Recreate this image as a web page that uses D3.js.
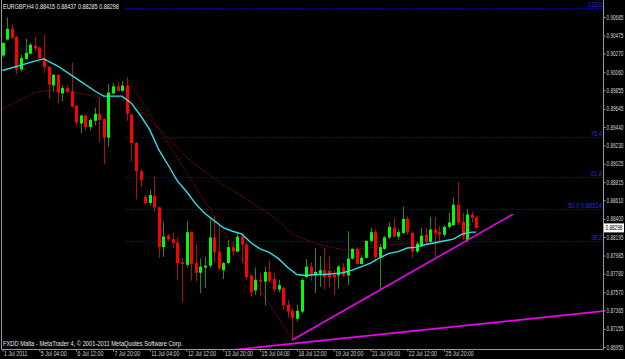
<!DOCTYPE html>
<html>
<head>
<meta charset="utf-8">
<script src="https://cdn.jsdelivr.net/npm/d3@7"></script>
<style>
html, body { margin: 0; padding: 0; background: #000; }
svg { display: block; }
text { font-family: "Liberation Sans", Arial, sans-serif; }
</style>
</head>
<body>
<svg id="chart" width="625" height="359"></svg>
<script>
// EURGBP H4 candles, one entry per bar (1 Jul 20:00 .. 26 Jul)
const opens = [0.9025,0.9043,0.9055,0.9046,0.9009,0.9021,0.9027,0.9036,0.9034,0.9022,
  0.9012,0.8991,0.9003,0.8982,0.8988,0.8984,0.8968,0.8948,0.8957,0.8944,
  0.8951,0.8959,0.8953,0.8932,0.8982,0.8990,0.8985,0.8991,0.8958,0.8926,
  0.8894,0.8865,0.8858,0.8866,0.8853,0.8808,0.8821,0.8817,0.8813,0.8791,
  0.8788,0.8825,0.8790,0.8779,0.8785,0.8787,0.8819,0.8803,0.8782,0.8790,
  0.8808,0.8803,0.8820,0.8811,0.8776,0.8759,0.8771,0.8769,0.8780,0.8772,
  0.8760,0.8762,0.8743,0.8736,0.8727,0.8735,0.8774,0.8786,0.8776,0.8778,
  0.8782,0.8781,0.8777,0.8776,0.8785,0.8776,0.8795,0.8806,0.8789,0.8796,
  0.8815,0.8825,0.8797,0.8806,0.8819,0.8830,0.8820,0.8824,0.8840,0.8824,
  0.8803,0.8810,0.8822,0.8814,0.8828,0.8825,0.8822,0.8831,0.8833,0.8856,
  0.8837,0.8816,0.8845,0.88415];
const highs = [0.9040,0.9068,0.9060,0.9047,0.9026,0.9044,0.9039,0.9046,0.9035,0.9048,
  0.9013,0.9004,0.9004,0.8991,0.8991,0.9017,0.8969,0.8958,0.8958,0.8954,
  0.8966,0.8978,0.8954,0.8993,0.8994,0.8995,0.8996,0.9000,0.8959,0.8927,
  0.8896,0.8867,0.8873,0.8888,0.8854,0.8837,0.8823,0.8824,0.8819,0.8796,
  0.8837,0.8826,0.8811,0.8795,0.8797,0.8840,0.8843,0.8833,0.8791,0.8816,
  0.8814,0.8824,0.8821,0.8814,0.8777,0.8785,0.8779,0.8786,0.8793,0.8779,
  0.8771,0.8763,0.8748,0.8739,0.8743,0.8773,0.8795,0.8791,0.8807,0.8798,
  0.8807,0.8798,0.8782,0.8788,0.8790,0.8826,0.8807,0.8808,0.8799,0.8816,
  0.8830,0.8828,0.8812,0.8821,0.8836,0.8841,0.8828,0.8854,0.8843,0.8826,
  0.8814,0.8830,0.8830,0.8842,0.8842,0.8832,0.8833,0.8847,0.8864,0.8882,
  0.8847,0.8851,0.8848,0.88437];
const lows = [0.9023,0.9042,0.9044,0.9004,0.9007,0.9020,0.9026,0.9029,0.9021,0.9005,
  0.8976,0.8984,0.8971,0.8973,0.8982,0.8966,0.8946,0.8937,0.8940,0.8940,
  0.8946,0.8927,0.8902,0.8922,0.8981,0.8984,0.8984,0.8951,0.8905,0.8862,
  0.8876,0.8856,0.8855,0.8848,0.8796,0.8797,0.8815,0.8807,0.8771,0.8746,
  0.8785,0.8770,0.8769,0.8756,0.8762,0.8785,0.8791,0.8782,0.8772,0.8789,
  0.8798,0.8802,0.8790,0.8771,0.8752,0.8754,0.8753,0.8742,0.8768,0.8757,
  0.8757,0.8737,0.8728,0.8703,0.8724,0.8733,0.8773,0.8770,0.8756,0.8763,
  0.8760,0.8763,0.8754,0.8761,0.8774,0.8765,0.8794,0.8788,0.8788,0.8795,
  0.8814,0.8791,0.8760,0.8805,0.8817,0.8819,0.8816,0.8823,0.8822,0.8796,
  0.8801,0.8808,0.8812,0.8813,0.8797,0.8814,0.8820,0.8829,0.8832,0.8833,
  0.8816,0.8814,0.8836,0.88285];
const closes = [0.9039,0.9055,0.9045,0.9009,0.9022,0.9028,0.9037,0.9033,0.9022,0.9012,
  0.8992,0.9003,0.8983,0.8988,0.8984,0.8967,0.8949,0.8957,0.8944,0.8952,
  0.8959,0.8952,0.8932,0.8983,0.8990,0.8985,0.8991,0.8959,0.8926,0.8894,
  0.8884,0.8858,0.8867,0.8853,0.8808,0.8820,0.8817,0.8813,0.8790,0.8789,
  0.8825,0.8789,0.8779,0.8786,0.8787,0.8819,0.8802,0.8784,0.8790,0.8808,
  0.8803,0.8820,0.8811,0.8774,0.8757,0.8771,0.8769,0.8780,0.8770,0.8760,
  0.8765,0.8742,0.8735,0.8728,0.8736,0.8771,0.8786,0.8776,0.8780,0.8782,
  0.8774,0.8774,0.8774,0.8786,0.8776,0.8795,0.8806,0.8789,0.8796,0.8815,
  0.8825,0.8797,0.8808,0.8819,0.8831,0.8820,0.8825,0.8840,0.8825,0.8803,
  0.8812,0.8821,0.8814,0.8828,0.8824,0.8822,0.8831,0.8836,0.8856,0.8836,
  0.8820,0.8845,0.8841,0.88298];

// fast MA (cyan), read at these bars
const fastBars = [0,4,8,9,12,16,20,22,24,26,28,30,32,34,36,38,40,42,44,46,48,50,52,54,56,58,60,62,64,66,68,70,72,74,76,78,80,82,84,86,88,90,92,94,96,98,100,102,103];
const fastVals = [0.9008,0.9014,0.9020,0.9021,0.9013,0.8999,0.8985,0.8979,0.8979,0.8979,
  0.8971,0.8957,0.8941,0.8918,0.8901,0.8883,0.8871,0.8857,0.8846,0.8838,
  0.8830,0.8826,0.8823,0.8813,0.8806,0.8802,0.8795,0.8785,0.8777,0.8776,
  0.8777,0.8777,0.8778,0.8779,0.8782,0.8786,0.8790,0.8796,0.8801,0.8803,
  0.8807,0.8808,0.8811,0.8813,0.8815,0.8817,0.8823,0.8825,0.8825];

// slow MA (dotted dark red)
const slowBars = [0,4,7,9,12,14,16,18,21,24,27,30,35,40,44,50,54,59,63,68,73,76,79,83,87,91,95,103];
const slowVals = [0.8965,0.8975,0.8983,0.8985,0.8986,0.8985,0.8983,0.8981,0.8978,0.8977,
  0.8977,0.8963,0.8937,0.8910,0.8893,0.8872,0.8859,0.8842,0.8823,0.8812,
  0.8806,0.8805,0.8807,0.8810,0.8812,0.8814,0.8815,0.8820];

// zigzag swing points: high of bar 27 to low of bar 63
const zigBars = [27, 63];

// fibo retracement
const fibHigh = 0.90058, fibLow = 0.86970, fibStartBar = 27;
const fibLevels = [38.2, 50.0, 61.8, 76.4, 123.6];

// trend lines [bar, price]
const trend1 = [[63, 0.8703], [111, 0.88454]];
const trend2 = [[63, 0.86988], [130, 0.87353]];

const priceTicks = [0.90685,0.90475,0.90270,0.90060,0.89855,0.89645,0.89440,0.89230,0.89025,
  0.88815,0.88610,0.88400,0.88195,0.87985,0.87780,0.87570,0.87365,0.87155,0.86950];
const dateBars = [0,8,16,24,32,40,48,56,64,72,80,88,96];
const dateLabels = ["1 Jul 2011","5 Jul 04:00","6 Jul 12:00","7 Jul 20:00","11 Jul 04:00","12 Jul 12:00",
  "13 Jul 20:00","15 Jul 04:00","18 Jul 12:00","19 Jul 20:00","21 Jul 04:00","22 Jul 12:00","25 Jul 20:00"];

const W = 625, H = 359;
const left = 2, right = 603, bottom = 349;

// squeeze small text horizontally to the width it has on the reference
function fit(sel, len) {
  sel.each(function () {
    const w = this.getComputedTextLength();
    if (!w) return;
    const k = len / w;
    const x0 = +(this.getAttribute("x") || 0);
    d3.select(this).attr("transform",
      "translate(" + x0 + ",0) scale(" + k + ",1) translate(" + (-x0) + ",0)");
  });
}

const svg = d3.select("#chart");
svg.append("rect").attr("width", W).attr("height", H).attr("fill", "#000");

const x = d3.scaleLinear().domain([0, 130]).range([2.5, 2.5 + 4.6 * 130]);
const y = d3.scaleLinear().domain([0.86950, 0.90685]).range([347, 17]);

svg.append("clipPath").attr("id", "plot")
  .append("rect").attr("x", left).attr("y", 0).attr("width", right - left).attr("height", bottom);

const g = svg.append("g").attr("clip-path", "url(#plot)");

// fibo lines
const fibG = g.append("g");
fibLevels.forEach(function (lv) {
  const p = fibLow + (fibHigh - fibLow) * lv / 100;
  const yy = Math.round(y(p)) + 0.5;
  fibG.append("line")
    .attr("x1", x(fibStartBar) - 1).attr("x2", right)
    .attr("y1", yy).attr("y2", yy)
    .attr("stroke", "#0000b4").attr("stroke-width", 1)
    .attr("stroke-dasharray", "3,2");
  const lab = lv === 50 ? "50.0    " + p.toFixed(5) : lv.toFixed(1);
  fibG.append("text")
    .attr("x", right - 1).attr("y", yy - 1)
    .attr("text-anchor", "end")
    .attr("font-size", "6.5px")
    .attr("fill", "#2a2ae0")
    .text(lab)
    .call(fit, lv === 50 ? 34 : (lab.length > 4 ? 14 : 11));
});

// slow MA + zigzag, dotted
const line = d3.line().x(d => x(d[0])).y(d => y(d[1]));
g.append("path")
  .attr("d", line(slowBars.map((b, i) => [b, slowVals[i]])))
  .attr("fill", "none").attr("stroke", "#a00000").attr("stroke-width", 1)
  .attr("stroke-dasharray", "1.5,1.5");
g.append("path")
  .attr("d", line([[zigBars[0], highs[zigBars[0]]], [zigBars[1], lows[zigBars[1]]]]))
  .attr("fill", "none").attr("stroke", "#a00000").attr("stroke-width", 1)
  .attr("stroke-dasharray", "1.5,1.5");

// candles
const bars = d3.range(opens.length).map(i => ({i: i, o: opens[i], h: highs[i], l: lows[i], c: closes[i]}));
const cg = g.append("g").selectAll("g").data(bars).enter().append("g");
cg.append("line")
  .attr("x1", d => Math.round(x(d.i)) + 0.5).attr("x2", d => Math.round(x(d.i)) + 0.5)
  .attr("y1", d => y(d.h)).attr("y2", d => y(d.l))
  .attr("stroke", d => d.c >= d.o ? "#1e8c1e" : "#a51414").attr("stroke-width", 1);
cg.append("rect")
  .attr("x", d => Math.round(x(d.i)) - 1)
  .attr("width", 3)
  .attr("y", d => y(Math.max(d.o, d.c)))
  .attr("height", d => Math.max(1, Math.abs(y(d.o) - y(d.c))))
  .attr("fill", d => d.c >= d.o ? "#00ff00" : "#ff0000");

// fast MA cyan
g.append("path")
  .attr("d", line(fastBars.map((b, i) => [b, fastVals[i]])))
  .attr("fill", "none").attr("stroke", "#30e0e8").attr("stroke-width", 1.4);

// trend lines
[trend1, trend2].forEach(function (t) {
  let a = t[0], b = t[1];
  let pts = [a, b];
  if (t === trend2) {
    const k = (b[1] - a[1]) / (b[0] - a[0]);
    pts = [[40, a[1] + k * (40 - a[0])], [132, a[1] + k * (132 - a[0])]];
  }
  g.append("path").attr("d", line(pts))
    .attr("fill", "none").attr("stroke", "#f000f0").attr("stroke-width", 1.6);
});

// title and footer
svg.append("text").attr("x", 3).attr("y", 9).attr("font-size", "6.5px").attr("fill", "#e8e8e8")
  .text("EURGBP,H4  " + [opens, highs, lows, closes].map(a => a[a.length - 1].toFixed(5)).join(" "))
  .call(fit, 116);
svg.append("text").attr("x", 3).attr("y", 346).attr("font-size", "6.5px").attr("fill", "#e8e8e8")
  .text("FXDD Malta - MetaTrader 4, \u00a9 2001-2011 MetaQuotes Software Corp.")
  .call(fit, 180);

// frame
svg.append("line").attr("x1", 1.5).attr("x2", 1.5).attr("y1", 0).attr("y2", bottom + 0.5)
  .attr("stroke", "#9a9a9a");
svg.append("line").attr("x1", right + 0.5).attr("x2", right + 0.5).attr("y1", 0).attr("y2", bottom + 0.5)
  .attr("stroke", "#9a9a9a");
svg.append("line").attr("x1", 1.5).attr("x2", right + 0.5).attr("y1", bottom + 0.5).attr("y2", bottom + 0.5)
  .attr("stroke", "#9a9a9a");

// price axis
const ya = svg.append("g").attr("transform", "translate(" + (right + 0.5) + ",0)")
  .call(d3.axisRight(y).tickValues(priceTicks).tickSize(2).tickPadding(1).tickFormat(d3.format(".5f")));
ya.select(".domain").remove();
ya.selectAll("line").attr("stroke", "#9a9a9a");
ya.selectAll("text").attr("font-size", "6.5px").attr("fill", "#d0d0d0").call(fit, 17);

// current price box
const last = closes[closes.length - 1];
svg.append("rect").attr("x", right + 1).attr("y", y(last) - 4.5).attr("width", W - right - 2).attr("height", 9)
  .attr("fill", "#ffffff");
svg.append("text").attr("x", right + 2.5).attr("y", y(last) + 2.3).attr("font-size", "6.5px").attr("fill", "#000")
  .text(last.toFixed(5)).call(fit, 17);

// time axis
const xa = svg.append("g").attr("transform", "translate(0," + (bottom + 0.5) + ")")
  .call(d3.axisBottom(x).tickValues(dateBars).tickSize(2).tickFormat((d, i) => dateLabels[i]));
xa.select(".domain").remove();
xa.selectAll("line").attr("stroke", "#9a9a9a");
xa.selectAll("text").attr("font-size", "6.5px").attr("fill", "#d0d0d0")
  .attr("text-anchor", "start").attr("x", 1).attr("y", 2)
  .each(function () {
    const t = d3.select(this);
    fit(t, t.text().length * 2.35);
  });
</script>
</body>
</html>
